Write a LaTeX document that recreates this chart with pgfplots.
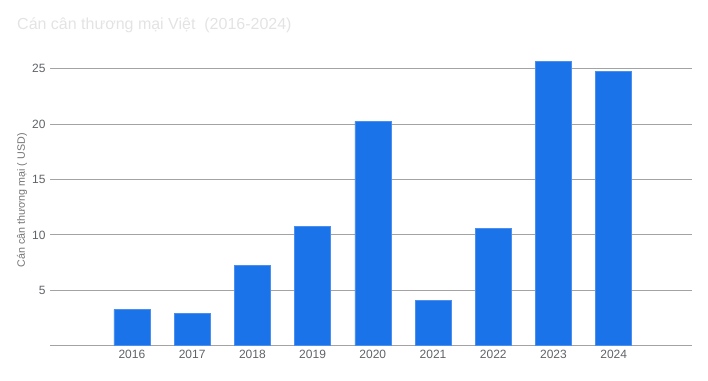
\documentclass[border=0pt]{standalone}
\usepackage{pgfplots}
\pgfplotsset{compat=1.18}
\usepackage{fontspec}
\setmainfont{Liberation Sans}
\definecolor{barblue}{HTML}{1A73E8}
\definecolor{baredge}{HTML}{4A8FEE}
\definecolor{gridgray}{HTML}{A3A3A3}
\definecolor{ticktext}{HTML}{5F6368}
\definecolor{labeltext}{HTML}{757575}
\definecolor{titlegray}{HTML}{E3E3E3}
\begin{document}
\begin{tikzpicture}[x=1pt,y=1pt]
\useasboundingbox (-50,-34.4) rectangle (658,345.6);
\begin{axis}[
  at={(0,0)}, anchor=south west,
  scale only axis,
  width=642pt, height=298.9pt,
  xmin=-1.36, xmax=9.3,
  ymin=0, ymax=27,
  xtick={0,...,8},
  xticklabels={2016,2017,2018,2019,2020,2021,2022,2023,2024},
  ytick={0,5,10,15,20,25},
  yticklabels={,5,10,15,20,25},
  ymajorgrids,
  grid style={gridgray, line width=0.9pt},
  axis line style={draw=none},
  major tick length=0pt,
  tick label style={font=\fontsize{12}{14}\selectfont, text=ticktext},
  /pgf/number format/assume math mode=true,
  xticklabel style={yshift=-1pt},
  yticklabel style={xshift=-1pt},
  ylabel={Cán cân thương mại ( USD)},
  every axis y label/.style={at={(rel axis cs:0,0.5)}, rotate=90, anchor=center,
     xshift=-4pt, yshift=28pt, font=\fontsize{10.7}{12}\selectfont, text=labeltext},
  clip=false,
]
\addplot[ybar, bar width=36pt, fill=barblue, draw=baredge, line width=0.6pt]
  coordinates {(0,3.28) (1,2.88) (2,7.22) (3,10.8) (4,20.26) (5,4.09) (6,10.62) (7,25.65) (8,24.74)};
\end{axis}
\node[anchor=base west, inner sep=0pt, text=titlegray, font=\fontsize{16}{19}\selectfont] at (-33,316.5) {Cán cân thương mại Việt\ \ (2016-2024)};
\end{tikzpicture}
\end{document}
